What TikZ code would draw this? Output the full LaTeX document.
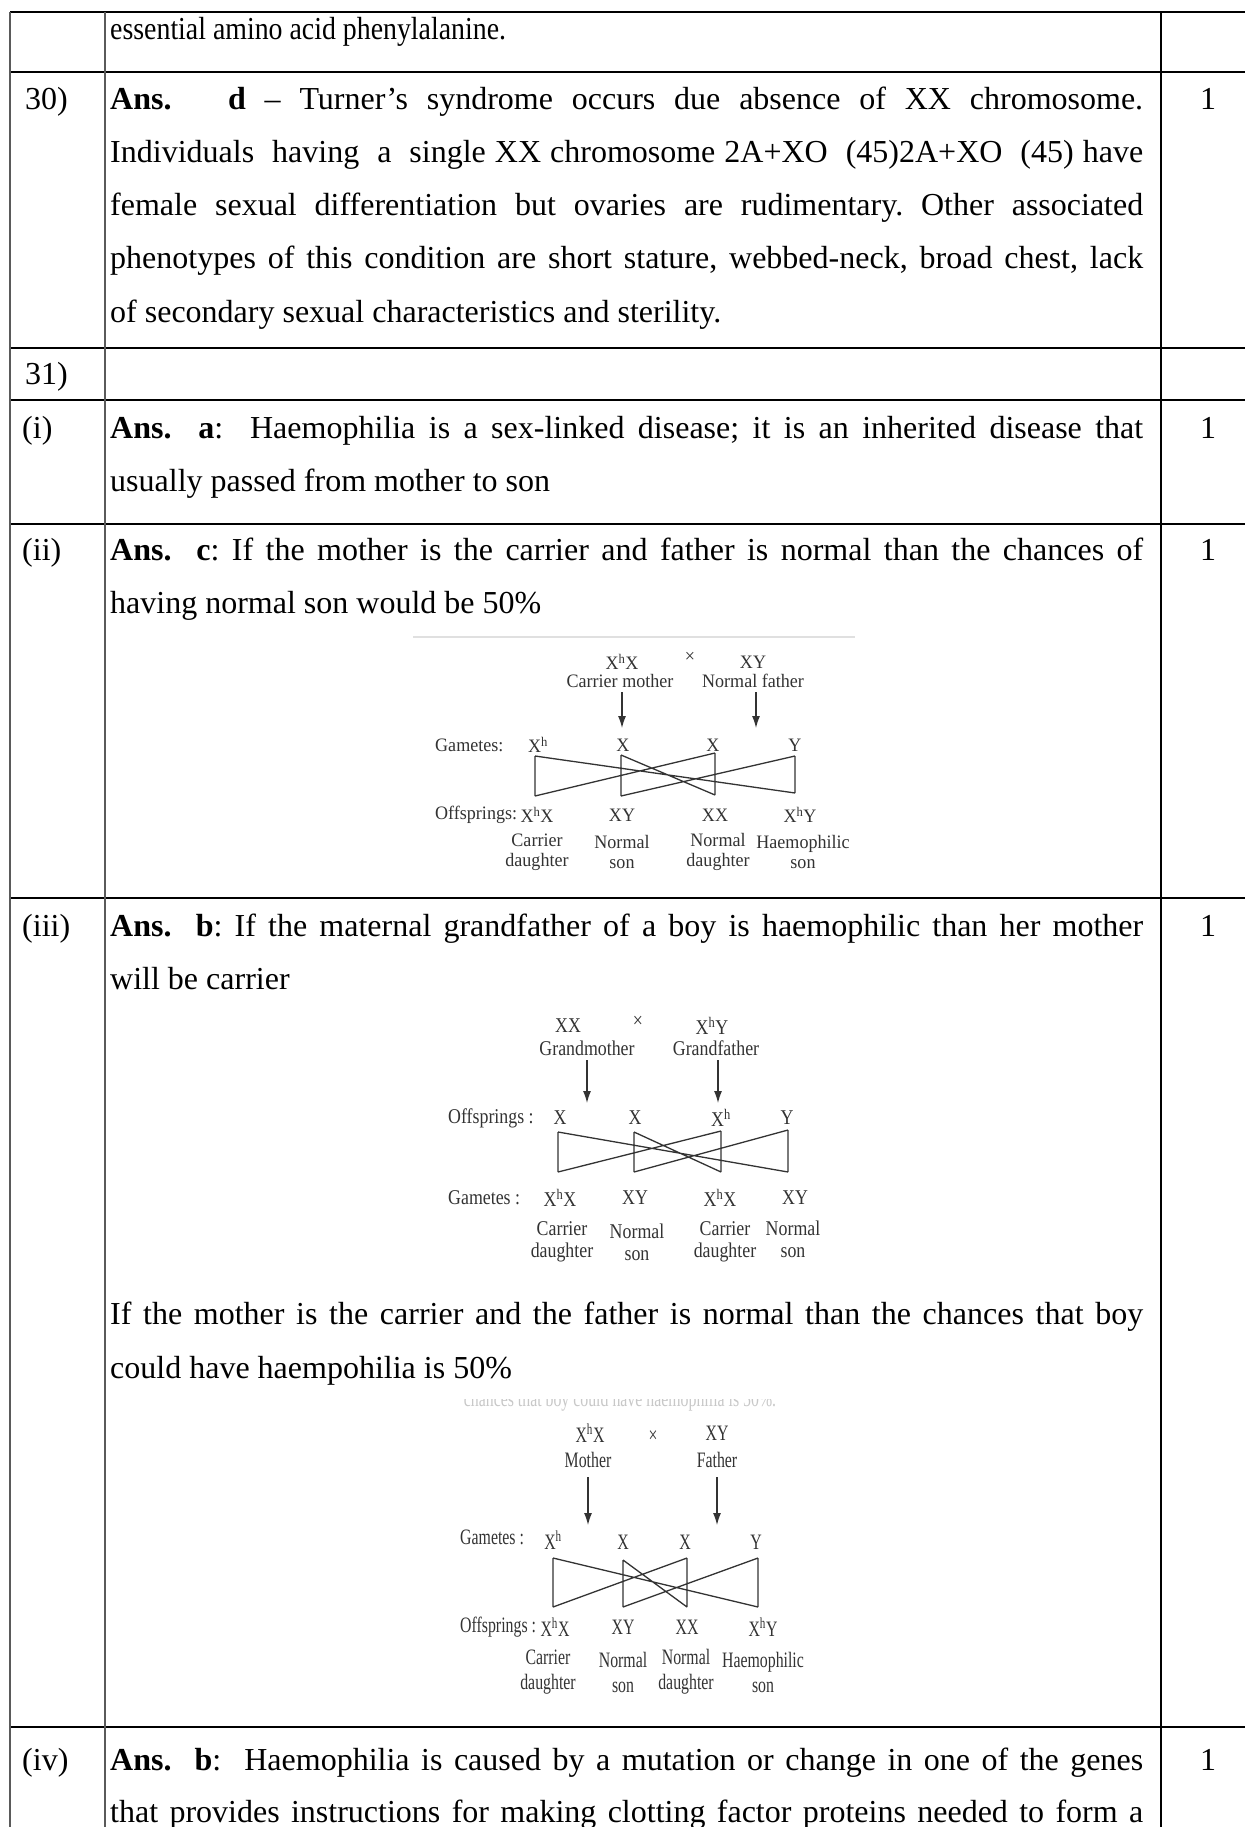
\documentclass[tikz,border=0pt]{standalone}
\usepackage{graphicx}
\usepackage{fontspec}
\setmainfont{Liberation Serif}
\newfontfamily\dgafont{Liberation Serif}[FakeStretch=0.95]
\newfontfamily\dgbfont{Liberation Serif}[FakeStretch=0.85]
\newfontfamily\dgcfont{Liberation Serif}[FakeStretch=0.72]
\usetikzlibrary{arrows.meta}
\definecolor{ink}{HTML}{333333}
\definecolor{faint}{HTML}{C8C8C8}
\definecolor{rulegray}{HTML}{5A5A5A}
\frenchspacing
\tikzset{
  body/.style={anchor=base west, inner sep=0pt, font=\fontsize{32}{38}\selectfont},
  num/.style={anchor=base, inner sep=0pt, font=\fontsize{32}{38}\selectfont},
  dga/.style={inner sep=0pt, text=ink, align=center, font=\dgafont\fontsize{19}{20}\selectfont},
  dgb/.style={inner sep=0pt, text=ink, align=center, font=\dgbfont\fontsize{21}{22}\selectfont},
  dgc/.style={inner sep=0pt, text=ink, align=center, font=\dgcfont\fontsize{22}{25}\selectfont},
  hrule/.style={line width=2.5pt, black},
  vrule/.style={line width=1.8pt, rulegray},
  vruleb/.style={line width=1.8pt, black},
  bow/.style={line width=1.3pt, ink},
  parr/.style={line width=1.2pt, ink, -{Latex[length=12pt,width=8pt]}},
}
\newcommand{\Xh}{X\textsuperscript{h}}
\newcommand{\jline}[1]{\makebox[1033pt][s]{#1}}
\begin{document}
\begin{tikzpicture}[x=1pt,y=-1pt]
\useasboundingbox (0,0) rectangle (1245,1827);
\fill[white] (0,0) rectangle (1245,1827);
% ---------- table rules
\foreach \yy in {12,72,348,400,524,898,1727} \draw[hrule] (10,\yy) -- (1245,\yy);
\foreach \xx in {10,105} \draw[vrule] (\xx,12) -- (\xx,1827);
\draw[vruleb] (1161,12) -- (1161,1827);
% ---------- row 1
\node[body] (r1) at (110,40) {\scalebox{0.87}[1]{essential amino acid phenylalanine.}};
% ---------- row 30
\node[body] (n30) at (25,110) {30)};
\node[body] (t30a) at (110,110) {\jline{\textbf{Ans.}\ \ \ \textbf{d} -- Turner's syndrome occurs due absence of XX chromosome.}};
\node[body] (t30b) at (110,163) {\jline{Individuals\ \ having\ \ a\ \ single XX chromosome 2A+XO\ \ (45)2A+XO\ \ (45) have}};
\node[body] (t30c) at (110,216) {\jline{female sexual differentiation but ovaries are rudimentary. Other associated}};
\node[body] (t30d) at (110,269) {\jline{phenotypes of this condition are short stature, webbed-neck, broad chest, lack}};
\node[body] (t30e) at (110,322) {of secondary sexual characteristics and sterility.};
\node[num] (m30) at (1208,110) {1};
% ---------- row 31
\node[body] (n31) at (25,384) {31)};
% ---------- row (i)
\node[body] (ni) at (22,438) {(i)};
\node[body] (tia) at (110,438) {\jline{\textbf{Ans.}\ \ \textbf{a}:\ \ Haemophilia is a sex-linked disease; it is an inherited disease that}};
\node[body] (tib) at (110,491) {usually passed from mother to son};
\node[num] (mi) at (1208,438) {1};
% ---------- row (ii)
\node[body] (nii) at (22,560) {(ii)};
\node[body] (tiia) at (110,560) {\jline{\textbf{Ans.}\ \ \textbf{c}: If the mother is the carrier and father is normal than the chances of}};
\node[body] (tiib) at (110,613) {having normal son would be 50\%};
\node[num] (mii) at (1208,560) {1};
% diagram 1
\draw[line width=2pt, black!12] (413,637) -- (855,637);
\node[dga] (d1m) at (622,662) {\Xh X};
\node[dga] (d1x) at (690,657) {×};
\node[dga] (d1f) at (753,662) {XY};
\node[dga] (d1ml) at (620,681) {Carrier mother};
\node[dga] (d1fl) at (753,681) {Normal father};
\coordinate (d1a1t) at (622,692); \coordinate (d1a1b) at (622,728);
\coordinate (d1a2t) at (756,692); \coordinate (d1a2b) at (756,728);
\draw[parr] (d1a1t) -- (d1a1b);
\draw[parr] (d1a2t) -- (d1a2b);
\node[dga, anchor=west] (d1gl) at (435,745) {Gametes:};
\node[dga] (d1g1) at (538,745) {\Xh};
\node[dga] (d1g2) at (623,745) {X};
\node[dga] (d1g3) at (713,745) {X};
\node[dga] (d1g4) at (795,745) {Y};
\coordinate (d1t1) at (535,756); \coordinate (d1b1) at (535,796);
\coordinate (d1t2) at (621,755); \coordinate (d1b2) at (621,796);
\coordinate (d1t3) at (715,753); \coordinate (d1b3) at (715,795);
\coordinate (d1t4) at (795,756); \coordinate (d1b4) at (795,793);
\draw[bow] (d1t1)--(d1b1) (d1t2)--(d1b2) (d1t3)--(d1b3) (d1t4)--(d1b4)
  (d1t1)--(d1b4) (d1t3)--(d1b1) (d1t2)--(d1b3) (d1t4)--(d1b2);
\node[dga, anchor=west] (d1ol) at (435,815) {Offsprings:};
\node[dga] (d1o1) at (537,815) {\Xh X};
\node[dga] (d1o2) at (622,815) {XY};
\node[dga] (d1o3) at (715,815) {XX};
\node[dga] (d1o4) at (800,815) {\Xh Y};
\node[dga] (d1p1) at (537,852) {Carrier\\daughter};
\node[dga] (d1p2) at (622,852) {Normal\\son};
\node[dga] (d1p3) at (718,852) {Normal\\daughter};
\node[dga] (d1p4) at (803,852) {Haemophilic\\son};
% ---------- row (iii)
\node[body] (niii) at (22,936) {(iii)};
\node[body] (tiiia) at (110,936) {\jline{\textbf{Ans.}\ \ \textbf{b}: If the maternal grandfather of a boy is haemophilic than her mother}};
\node[body] (tiiib) at (110,989) {will be carrier};
\node[num] (miii) at (1208,936) {1};
% diagram 2
\node[dgb] (d2m) at (568,1026) {XX};
\node[dgb] (d2x) at (638,1022) {×};
\node[dgb] (d2f) at (712,1026) {\Xh Y};
\node[dgb] (d2ml) at (587,1048) {Grandmother};
\node[dgb] (d2fl) at (716,1048) {Grandfather};
\coordinate (d2a1t) at (587,1060); \coordinate (d2a1b) at (587,1103);
\coordinate (d2a2t) at (718,1060); \coordinate (d2a2b) at (718,1103);
\draw[parr] (d2a1t) -- (d2a1b);
\draw[parr] (d2a2t) -- (d2a2b);
\node[dgb, anchor=west] (d2ol) at (448,1118) {Offsprings :};
\node[dgb] (d2g1) at (560,1118) {X};
\node[dgb] (d2g2) at (635,1118) {X};
\node[dgb] (d2g3) at (721,1118) {\Xh};
\node[dgb] (d2g4) at (787,1118) {Y};
\coordinate (d2t1) at (558,1132); \coordinate (d2b1) at (558,1172);
\coordinate (d2t2) at (634,1132); \coordinate (d2b2) at (634,1172);
\coordinate (d2t3) at (721,1131); \coordinate (d2b3) at (721,1172);
\coordinate (d2t4) at (788,1130); \coordinate (d2b4) at (788,1172);
\draw[bow] (d2t1)--(d2b1) (d2t2)--(d2b2) (d2t3)--(d2b3) (d2t4)--(d2b4)
  (d2t1)--(d2b4) (d2t3)--(d2b1) (d2t2)--(d2b3) (d2t4)--(d2b2);
\node[dgb, anchor=west] (d2gl) at (448,1198) {Gametes :};
\node[dgb] (d2o1) at (560,1198) {\Xh X};
\node[dgb] (d2o2) at (635,1198) {XY};
\node[dgb] (d2o3) at (720,1198) {\Xh X};
\node[dgb] (d2o4) at (795,1198) {XY};
\node[dgb] (d2p1) at (562,1242) {Carrier\\daughter};
\node[dgb] (d2p2) at (637,1242) {Normal\\son};
\node[dgb] (d2p3) at (725,1242) {Carrier\\daughter};
\node[dgb] (d2p4) at (793,1239) {Normal\\son};
% text between diagrams
\node[body] (tiiic) at (110,1324) {\jline{If the mother is the carrier and the father is normal than the chances that boy}};
\node[body] (tiiid) at (110,1378) {could have haempohilia is 50\%};
% diagram 3: cut-off line at its top
\begin{scope}
  \clip (455,1399) rectangle (790,1413);
  \node[dgc, text=faint, anchor=base] (d3cut) at (620,1406) {chances that boy could have haemophilia is 50\%.};
\end{scope}
\node[dgc] (d3m) at (590,1433) {\Xh X};
\node[dgc] (d3x) at (653,1437) {×};
\node[dgc] (d3f) at (717,1433) {XY};
\node[dgc] (d3ml) at (588,1460) {Mother};
\node[dgc] (d3fl) at (717,1460) {Father};
\coordinate (d3a1t) at (588,1477); \coordinate (d3a1b) at (588,1525);
\coordinate (d3a2t) at (717,1477); \coordinate (d3a2b) at (717,1525);
\draw[parr] (d3a1t) -- (d3a1b);
\draw[parr] (d3a2t) -- (d3a2b);
\node[dgc, anchor=west] (d3gl) at (460,1537) {Gametes :};
\node[dgc] (d3g1) at (553,1540) {\Xh};
\node[dgc] (d3g2) at (623,1542) {X};
\node[dgc] (d3g3) at (685,1542) {X};
\node[dgc] (d3g4) at (756,1542) {Y};
\coordinate (d3t1) at (553,1558); \coordinate (d3b1) at (553,1607);
\coordinate (d3t2) at (623,1560); \coordinate (d3b2) at (623,1607);
\coordinate (d3t3) at (687,1558); \coordinate (d3b3) at (687,1607);
\coordinate (d3t4) at (758,1558); \coordinate (d3b4) at (758,1607);
\draw[bow] (d3t1)--(d3b1) (d3t2)--(d3b2) (d3t3)--(d3b3) (d3t4)--(d3b4)
  (d3t1)--(d3b4) (d3t3)--(d3b1) (d3t2)--(d3b3) (d3t4)--(d3b2);
\node[dgc, anchor=west] (d3ol) at (460,1627) {Offsprings :};
\node[dgc] (d3o1) at (555,1627) {\Xh X};
\node[dgc] (d3o2) at (623,1627) {XY};
\node[dgc] (d3o3) at (687,1627) {XX};
\node[dgc] (d3o4) at (763,1627) {\Xh Y};
\node[dgc] (d3p1) at (548,1672) {Carrier\\daughter};
\node[dgc] (d3p2) at (623,1672) {Normal\\son};
\node[dgc] (d3p3) at (686,1672) {Normal\\daughter};
\node[dgc] (d3p4) at (763,1672) {Haemophilic\\son};
% ---------- row (iv)
\node[body] (niv) at (22,1770) {(iv)};
\node[body] (tiva) at (110,1770) {\jline{\textbf{Ans.}\ \ \textbf{b}:\ \ Haemophilia is caused by a mutation or change in one of the genes}};
\node[body] (tivb) at (110,1822) {\jline{that provides instructions for making clotting factor proteins needed to form a}};
\node[num] (miv) at (1208,1770) {1};
\end{tikzpicture}
\end{document}
